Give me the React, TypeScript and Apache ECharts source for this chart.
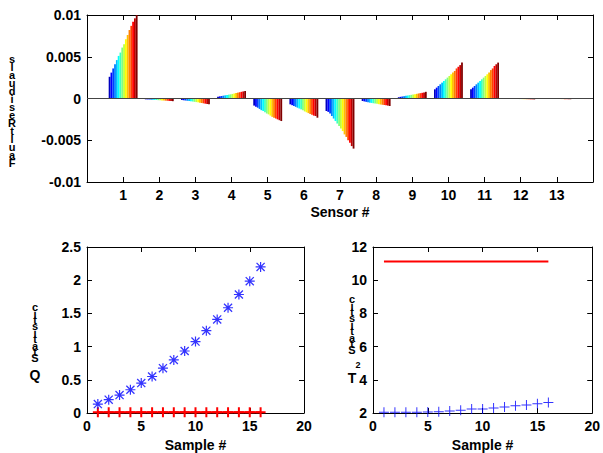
import React, { useEffect, useRef } from "react";
import * as echarts from "echarts";

// ---- Data ----
const sensorLabels = ["", "1", "2", "3", "4", "5", "6", "7", "8", "9", "10", "11", "12", "13", ""];
const samples = [1, 2, 3, 4, 5, 6, 7, 8, 9, 10, 11, 12, 13, 14, 15, 16];

const sensor1 = [0.0026, 0.0031, 0.0036, 0.0041, 0.0046, 0.0051, 0.0055, 0.0061, 0.0065, 0.0071, 0.0076, 0.0082, 0.0087, 0.0092, 0.0096, 0.01];
const sensor2 = [-0.0001, -0.00011, -0.00012, -0.00014, -0.00015, -0.00017, -0.00018, -0.0002, -0.00021, -0.00023, -0.00024, -0.00026, -0.00027, -0.00029, -0.0003, -0.00032];
const sensor3 = [-0.00018, -0.00021, -0.00024, -0.00027, -0.0003, -0.00033, -0.00036, -0.0004, -0.00043, -0.00046, -0.0005, -0.00054, -0.00058, -0.00062, -0.00066, -0.0007];
const sensor4 = [0.00022, 0.00026, 0.0003, 0.00034, 0.00038, 0.00042, 0.00046, 0.0005, 0.00055, 0.0006, 0.00065, 0.0007, 0.00075, 0.0008, 0.00085, 0.0009];
const sensor5 = [-0.00085, -0.001, -0.0011, -0.00125, -0.0014, -0.0015, -0.00165, -0.0018, -0.0019, -0.00205, -0.0022, -0.0023, -0.0024, -0.0025, -0.0026, -0.0027];
const sensor6 = [-0.0007, -0.0008, -0.0009, -0.001, -0.0011, -0.0012, -0.0013, -0.0014, -0.00155, -0.00165, -0.00175, -0.00185, -0.00195, -0.00205, -0.0021, -0.0023];
const sensor7 = [-0.0015, -0.0016, -0.0018, -0.0021, -0.0024, -0.0027, -0.003, -0.0033, -0.0036, -0.0039, -0.0043, -0.0046, -0.005, -0.0053, -0.0057, -0.006];
const sensor8 = [-0.0003, -0.00035, -0.0004, -0.00045, -0.0005, -0.00053, -0.00057, -0.0006, -0.00064, -0.00068, -0.00072, -0.00075, -0.00078, -0.00082, -0.00085, -0.0009];
const sensor9 = [0.00015, 0.0002, 0.00024, 0.00028, 0.00032, 0.00036, 0.0004, 0.00044, 0.00048, 0.00052, 0.00056, 0.0006, 0.00064, 0.00068, 0.00072, 0.0008];
const sensor10 = [0.0011, 0.0013, 0.0015, 0.0017, 0.0019, 0.0021, 0.0023, 0.0025, 0.0027, 0.0029, 0.0031, 0.0033, 0.0036, 0.0038, 0.004, 0.0043];
const sensor11 = [0.0011, 0.0013, 0.0015, 0.0017, 0.0019, 0.0021, 0.0023, 0.0025, 0.0027, 0.0029, 0.0031, 0.0034, 0.0036, 0.0039, 0.0041, 0.0043];
const sensor12 = [-0.00003, -0.00004, -0.00004, -0.00005, -0.00005, -0.00006, -0.00006, -0.00007, -0.00007, -0.00008, -0.00008, -0.00009, -0.00009, -0.0001, -0.0001, -0.00011];
const sensor13 = [-0.00002, -0.00003, -0.00003, -0.00004, -0.00004, -0.00005, -0.00005, -0.00006, -0.00006, -0.00006, -0.00007, -0.00007, -0.00008, -0.00008, -0.00009, -0.00009];
const sensors = [sensor1, sensor2, sensor3, sensor4, sensor5, sensor6, sensor7, sensor8, sensor9, sensor10, sensor11, sensor12, sensor13];

const jetColors = ["#0000BF", "#0000FF", "#0040FF", "#0080FF", "#00BFFF", "#00FFFF", "#40FFBF", "#80FF80", "#BFFF40", "#FFFF00", "#FFBF00", "#FF8000", "#FF4000", "#FF0000", "#BF0000", "#800000"];

const qStatistic = [0.135, 0.2, 0.27, 0.35, 0.45, 0.55, 0.675, 0.8, 0.934, 1.075, 1.24, 1.41, 1.585, 1.785, 1.985, 2.2];
const qLimit = [0.012, 0.012, 0.012, 0.012, 0.012, 0.012, 0.012, 0.012, 0.012, 0.012, 0.012, 0.012, 0.012, 0.012, 0.012, 0.012];
const t2Statistic = [2.04, 2.04, 2.04, 2.05, 2.06, 2.08, 2.12, 2.16, 2.24, 2.24, 2.3, 2.36, 2.44, 2.48, 2.56, 2.64];
const t2Limit = [11.12, 11.12];
const t2LimitX = [1, 16];

const ASTERISK =
  "path://M4.4 0L5.6 0L5.6 10L4.4 10Z M0 4.4L10 4.4L10 5.6L0 5.6Z M1.4 0.5L9.5 8.6L8.6 9.5L0.5 1.4Z M8.6 0.5L9.5 1.4L1.4 9.5L0.5 8.6Z";
const PLUS = "path://M4.5 0L5.5 0L5.5 10L4.5 10Z M0 4.5L10 4.5L10 5.5L0 5.5Z";
const PLUS_BOLD = "path://M4 0L6 0L6 10L4 10Z M0 4L10 4L10 6L0 6Z";

const FONT = "'Liberation Sans', Arial, Helvetica, sans-serif";
const FS = 14;

function axisBase(extra: any) {
  return {
    axisLine: { show: true, onZero: false, lineStyle: { color: "#000", width: 1 } },
    axisTick: { show: true, inside: true, length: 5, lineStyle: { color: "#000" } },
    axisLabel: { color: "#000", fontWeight: "bold", fontSize: FS, fontFamily: FONT, margin: 6 },
    splitLine: { show: false },
    ...extra,
  };
}

function mirror(extra: any) {
  return {
    axisLine: { show: true, onZero: false, lineStyle: { color: "#000", width: 1 } },
    axisTick: { show: true, inside: true, length: 5, lineStyle: { color: "#000" } },
    axisLabel: { show: false },
    splitLine: { show: false },
    ...extra,
  };
}

export default function App() {
  const ref = useRef<HTMLDivElement>(null);
  useEffect(() => {
    if (!ref.current) return;
    const chart = echarts.init(ref.current, undefined, { renderer: "svg" });

    const barSeries = samples.map((s, i) => ({
      type: "bar",
      name: "sample " + s,
      xAxisIndex: 0,
      yAxisIndex: 0,
      barGap: "0%",
      barCategoryGap: "20%",
      itemStyle: { color: jetColors[i] },
      data: [null, ...sensors.map((arr) => arr[i]), null],
      markLine:
        i === 0
          ? {
              silent: true,
              symbol: "none",
              label: { show: false },
              lineStyle: { color: "#444", width: 1, type: "solid" },
              data: [{ yAxis: 0 }],
            }
          : undefined,
    }));

    const letters = (text: string, x: number, y: number, lh: number, fs: number) => ({
      type: "text",
      x,
      y,
      style: {
        text,
        fontSize: fs,
        fontWeight: "bold",
        fontFamily: FONT,
        lineHeight: lh,
        align: "center",
        verticalAlign: "top",
        fill: "#000",
      },
    });

    const nameStyle = { color: "#000", fontWeight: "bold", fontSize: FS, fontFamily: FONT };

    const option: any = {
      animation: false,
      backgroundColor: "#fff",
      grid: [
        { left: 87, top: 15, width: 506, height: 167 },
        { left: 87, top: 247, width: 217, height: 166 },
        { left: 373, top: 247, width: 220, height: 166 },
      ],
      xAxis: [
        axisBase({
          type: "category",
          gridIndex: 0,
          data: sensorLabels,
          boundaryGap: false,
          axisLabel: { color: "#000", fontWeight: "bold", fontSize: FS, fontFamily: FONT, margin: 6, interval: 0 },
          axisTick: { show: true, inside: true, length: 5, interval: 0, lineStyle: { color: "#000" } },
          name: "Sensor #",
          nameLocation: "middle",
          nameGap: 23,
          nameTextStyle: nameStyle,
        }),
        mirror({
          type: "category",
          gridIndex: 0,
          position: "top",
          data: sensorLabels,
          boundaryGap: false,
          axisTick: { show: true, inside: true, length: 5, interval: 0, lineStyle: { color: "#000" } },
        }),
        axisBase({
          type: "value",
          gridIndex: 1,
          min: 0,
          max: 20,
          interval: 5,
          name: "Sample #",
          nameLocation: "middle",
          nameGap: 25,
          nameTextStyle: nameStyle,
        }),
        mirror({ type: "value", gridIndex: 1, position: "top", min: 0, max: 20, interval: 5 }),
        axisBase({
          type: "value",
          gridIndex: 2,
          min: 0,
          max: 20,
          interval: 5,
          name: "Sample #",
          nameLocation: "middle",
          nameGap: 25,
          nameTextStyle: nameStyle,
        }),
        mirror({ type: "value", gridIndex: 2, position: "top", min: 0, max: 20, interval: 5 }),
      ],
      yAxis: [
        axisBase({ type: "value", gridIndex: 0, min: -0.01, max: 0.01, interval: 0.005 }),
        mirror({ type: "value", gridIndex: 0, position: "right", min: -0.01, max: 0.01, interval: 0.005 }),
        axisBase({ type: "value", gridIndex: 1, min: 0, max: 2.5, interval: 0.5 }),
        mirror({ type: "value", gridIndex: 1, position: "right", min: 0, max: 2.5, interval: 0.5 }),
        axisBase({ type: "value", gridIndex: 2, min: 2, max: 12, interval: 2 }),
        mirror({ type: "value", gridIndex: 2, position: "right", min: 2, max: 12, interval: 2 }),
      ],
      series: [
        ...barSeries,
        {
          type: "line",
          name: "Q limit",
          xAxisIndex: 2,
          yAxisIndex: 2,
          data: samples.map((s, i) => [s, qLimit[i]]),
          symbol: PLUS_BOLD,
          symbolSize: 10,
          showSymbol: true,
          itemStyle: { color: "#FF0000" },
          lineStyle: { color: "#FF0000", width: 2 },
          z: 3,
        },
        {
          type: "scatter",
          name: "Q",
          xAxisIndex: 2,
          yAxisIndex: 2,
          data: samples.map((s, i) => [s, qStatistic[i]]),
          symbol: ASTERISK,
          symbolSize: 10,
          itemStyle: { color: "#0000FF" },
          z: 4,
        },
        {
          type: "line",
          name: "T2 limit",
          xAxisIndex: 4,
          yAxisIndex: 4,
          data: t2LimitX.map((x, i) => [x, t2Limit[i]]),
          showSymbol: false,
          symbol: "none",
          lineStyle: { color: "#FF0000", width: 2 },
        },
        {
          type: "scatter",
          name: "T2",
          xAxisIndex: 4,
          yAxisIndex: 4,
          data: samples.map((s, i) => [s, t2Statistic[i]]),
          symbol: PLUS,
          symbolSize: 10,
          itemStyle: { color: "#0000FF" },
        },
      ],
      graphic: [
        letters("s\nl\na\nu\nd\ni\ns\ne\nR\nt\nl\nu\na\nF", 12, 55, 8, 11),
        letters("c\ni\nt\ns\ni\nt\na\nt\nS", 35, 304, 6.4, 11),
        letters("Q", 35, 367, 15, 14),
        letters("c\ni\nt\ns\ni\nt\na\nt\nS", 352, 296, 6.4, 11),
        letters("2", 358, 360, 9, 9),
        letters("T", 352, 370, 15, 14),
      ],
    };

    chart.setOption(option);
    return () => chart.dispose();
  }, []);

  return (
    <div
      ref={ref}
      style={{ position: "fixed", left: 0, top: 0, width: 603, height: 453, background: "#fff" }}
    />
  );
}
